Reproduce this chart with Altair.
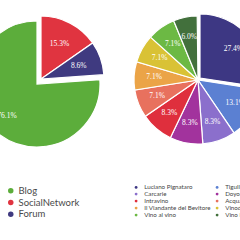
import math
import altair as alt
import pandas as pd

# ---------------- data ----------------
left_names = ["SocialNetwork", "Forum", "Blog"]          # pie order (clockwise from top)
left_values = [15.3, 8.6, 76.1]
left_legend_order = ["Blog", "SocialNetwork", "Forum"]
left_legend_colors = ["#5cad3b", "#e03440", "#3f3a80"]
left_exploded = ["SocialNetwork", "Forum"]

right_names = ["Luciano Pignataro", "Tigulliovino", "Carcarie", "Doyosa", "Intravino",
               "Acquabuona", "Il Viandante del Bevitore", "Vinodabere", "Vino al vino",
               "Vino L'altro"]
right_values = [27.4, 13.1, 8.3, 8.3, 8.3, 7.1, 7.1, 7.1, 7.1, 6.0]
right_colors = ["#3d3783", "#5b80d2", "#8b6fcc", "#a2339d", "#df2f3d",
                "#e8715e", "#eba447", "#d9c235", "#6cb944", "#42703c"]
right_exploded = ["Luciano Pignataro"]
# legend is filled column by column: odd entries in column 1, even entries in column 2
right_legend_order = right_names[0::2] + right_names[1::2]
right_legend_colors = right_colors[0::2] + right_colors[1::2]

left_df = pd.DataFrame({"name": left_names, "value": left_values,
                        "idx": list(range(len(left_names)))})
right_df = pd.DataFrame({"name": right_names, "value": right_values,
                         "idx": list(range(len(right_names)))})

theta_scale = alt.Scale(domain=[0, 100], range=[0, 2 * math.pi])


def base(df):
    return (
        alt.Chart(df)
        .transform_window(cum="sum(value)", sort=[{"field": "idx"}], frame=[None, 0])
        .transform_calculate(start="datum.cum - datum.value",
                             mid="datum.cum - datum.value / 2",
                             label="format(datum.value, '.1f') + '%'")
    )


def pie(df, color, cx, cy, r, lr, exploded, ex, ey, elr):
    b = base(df)
    in_expl = alt.FieldOneOfPredicate(field="name", oneOf=exploded)
    not_expl = alt.LogicalNotPredicate(**{"not": in_expl})
    arc = dict(theta=alt.Theta("start:Q", scale=theta_scale), theta2="cum:Q", color=color)
    txt = dict(theta=alt.Theta("mid:Q", scale=theta_scale), text="label:N")
    layers = [
        b.transform_filter(not_expl).mark_arc(outerRadius=r, stroke="white", strokeWidth=1.2)
        .encode(x=alt.value(cx), y=alt.value(cy), **arc),
        b.transform_filter(in_expl).mark_arc(outerRadius=r, stroke="white", strokeWidth=1.2)
        .encode(x=alt.value(ex), y=alt.value(ey), **arc),
        b.transform_filter(not_expl).mark_text(font="Liberation Serif", fontSize=7.5, color="white")
        .encode(x=alt.value(cx), y=alt.value(cy), radius=alt.value(lr), **txt),
        b.transform_filter(in_expl).mark_text(font="Liberation Serif", fontSize=7.5, color="white")
        .encode(x=alt.value(ex), y=alt.value(ey), radius=alt.value(elr), **txt),
    ]
    return alt.layer(*layers)


left_color = alt.Color(
    "name:N",
    scale=alt.Scale(domain=left_legend_order, range=left_legend_colors),
    legend=alt.Legend(orient="none", legendX=6, legendY=186, title=None,
                      symbolType="circle", symbolSize=30, symbolStrokeWidth=0,
                      labelFont="Lato", labelFontSize=9.5, labelColor="#4a4a4a",
                      labelOffset=3, rowPadding=0.8, padding=0),
)
right_color = alt.Color(
    "name:N",
    scale=alt.Scale(domain=right_legend_order, range=right_legend_colors),
    legend=alt.Legend(orient="none", legendX=133, legendY=184, title=None, columns=2,
                      symbolType="circle", symbolSize=8, symbolStrokeWidth=0,
                      labelFont="Lato", labelFontSize=6.2, labelColor="#444444",
                      labelOffset=5, rowPadding=-0.4, columnPadding=3, padding=0,
                      labelLimit=200),
)

left_pie = pie(left_df, left_color, 37, 84, 63, 44, left_exploded, 41, 79, 40)
right_pie = pie(right_df, right_color, 198, 80, 64, 44, right_exploded, 200, 78, 44)

chart = (
    alt.layer(left_pie, right_pie)
    .resolve_scale(color="independent")
    .properties(width=240, height=240, autosize=alt.AutoSizeParams(type="none"),
                padding=0, background="white")
    .configure_view(stroke=None)
)

chart.save("out.html", embed_options={"renderer": "svg", "actions": False})
